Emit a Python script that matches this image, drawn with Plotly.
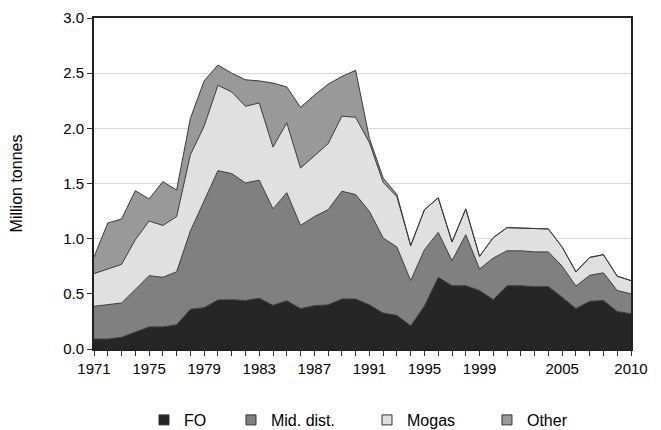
import plotly.graph_objects as go

years = list(range(1971, 2011))

fo = [0.09, 0.09, 0.106, 0.15, 0.2, 0.2, 0.22, 0.36, 0.375, 0.444,
      0.447, 0.44, 0.46, 0.396, 0.438, 0.366, 0.393, 0.40, 0.453, 0.453,
      0.40, 0.326, 0.305, 0.21, 0.39, 0.65, 0.574, 0.574, 0.53, 0.447,
      0.574, 0.574, 0.565, 0.565, 0.47, 0.366, 0.432, 0.44, 0.34, 0.32]

mid_dist = [0.297, 0.31, 0.311, 0.39, 0.465, 0.45, 0.48, 0.71, 0.975, 1.172,
            1.143, 1.065, 1.07, 0.874, 0.979, 0.754, 0.807, 0.863, 0.977, 0.947,
            0.848, 0.68, 0.619, 0.41, 0.51, 0.407, 0.226, 0.462, 0.195, 0.378,
            0.316, 0.316, 0.315, 0.315, 0.28, 0.204, 0.236, 0.25, 0.19, 0.18]

mogas = [0.296, 0.325, 0.35, 0.45, 0.495, 0.47, 0.5, 0.69, 0.67, 0.774,
         0.74, 0.695, 0.70, 0.56, 0.633, 0.52, 0.55, 0.597, 0.68, 0.70,
         0.622, 0.504, 0.456, 0.317, 0.363, 0.313, 0.17, 0.234, 0.115, 0.185,
         0.21, 0.207, 0.208, 0.208, 0.174, 0.13, 0.162, 0.165, 0.13, 0.12]

other = [0.151, 0.417, 0.411, 0.445, 0.20, 0.397, 0.24, 0.33, 0.41, 0.184,
         0.17, 0.24, 0.20, 0.58, 0.325, 0.55, 0.55, 0.54, 0.36, 0.426,
         0.04, 0.04, 0.02, 0, 0, 0, 0, 0, 0, 0,
         0, 0, 0, 0, 0, 0, 0, 0, 0, 0]

series_names = ["FO", "Mid. dist.", "Mogas", "Other"]
series_values = [fo, mid_dist, mogas, other]
series_colors = ["#262626", "#808080", "#e0e0e0", "#999999"]

x_tick_vals = [1971, 1975, 1979, 1983, 1987, 1991, 1995, 1999, 2005, 2010]
x_tick_text = [str(v) for v in x_tick_vals]

legend_ids = ["legend", "legend2", "legend3", "legend4"]
legend_x = [0.0931, 0.2551, 0.5084, 0.7318]

fig = go.Figure()
for name, vals, col in zip(series_names, series_values, series_colors):
    fig.add_trace(go.Scatter(
        x=years, y=vals, stackgroup="one", mode="lines",
        line=dict(color="#3a3a3a", width=1), fillcolor=col,
        name=name, showlegend=False, hoverinfo="skip"))
for name, col, lid in zip(series_names, series_colors, legend_ids):
    fig.add_trace(go.Scatter(
        x=[None], y=[None], mode="markers", name=name, legend=lid,
        marker=dict(symbol="square", size=10, color=col,
                    line=dict(color="#333333", width=1))))

legend_style = dict(orientation="h", xanchor="left", y=-0.2145, yanchor="middle",
                    font=dict(size=16), bgcolor="rgba(0,0,0,0)", itemwidth=30)
fig.update_layout(
    width=653, height=422,
    margin=dict(l=86, r=30, t=10, b=81, autoexpand=False),
    paper_bgcolor="white", plot_bgcolor="white",
    font=dict(family="Liberation Sans, Arial, sans-serif", color="#000000", size=15),
    showlegend=True,
    legend=dict(x=legend_x[0], **legend_style),
    legend2=dict(x=legend_x[1], **legend_style),
    legend3=dict(x=legend_x[2], **legend_style),
    legend4=dict(x=legend_x[3], **legend_style),
)
fig.update_xaxes(
    range=[1971, 2010], tickmode="array", tickvals=x_tick_vals, ticktext=x_tick_text,
    ticks="outside", ticklen=5, tickcolor="#333333", tickfont=dict(size=15),
    showline=True, linecolor="#222222", linewidth=2, mirror=True,
    showgrid=False, zeroline=False, automargin=False,
    minor=dict(tickmode="linear", tick0=1971, dtick=1, ticks="outside",
               ticklen=5, tickcolor="#333333", showgrid=False),
)
fig.update_yaxes(
    range=[0, 3.0], tickmode="linear", tick0=0, dtick=0.5, tickformat=".1f",
    ticks="outside", ticklen=5, tickcolor="#333333", tickfont=dict(size=15),
    showline=True, linecolor="#222222", linewidth=2, mirror=True,
    showgrid=True, gridcolor="#d9d9d9", gridwidth=1, zeroline=False, automargin=False,
    title=dict(text="Million tonnes", font=dict(size=16), standoff=41),
)
fig.write_html("out.html")
